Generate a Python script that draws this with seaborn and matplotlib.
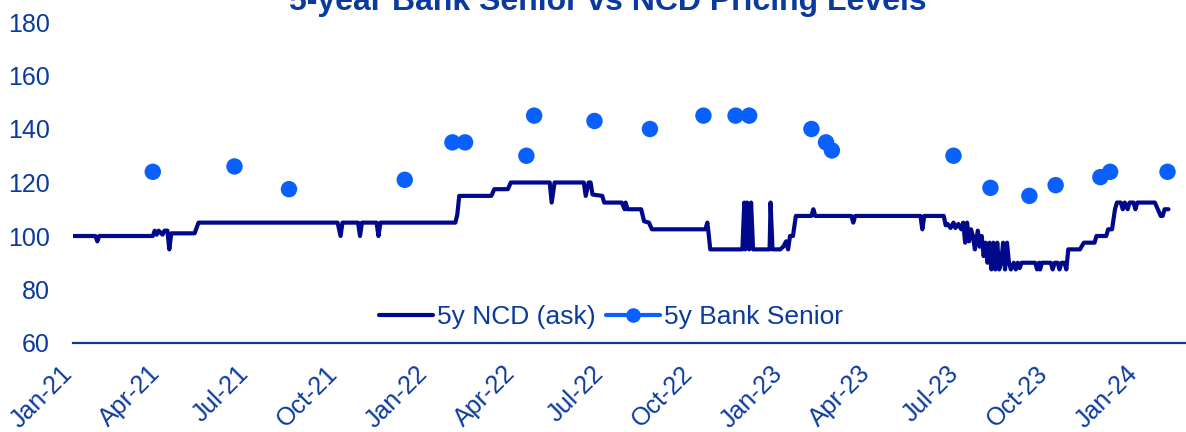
import numpy as np
import pandas as pd
import matplotlib
matplotlib.use("Agg")
import matplotlib.pyplot as plt
import matplotlib.dates as mdates
from matplotlib.lines import Line2D
from matplotlib.transforms import ScaledTranslation
import seaborn as sns

# ---------------- data ----------------
start_date = "2021-01-01"
end_date = "2024-02-19"

# 5y NCD (ask): day offset from start_date, value
ncd_day = [0, 23, 25, 27, 82, 84, 86, 88, 92, 94, 97, 99, 101, 125, 129,
           272, 275, 277, 293, 295, 297, 312, 314, 316, 393, 395, 397, 430, 433,
           447, 450, 490, 492, 495, 525, 527, 530, 532, 534, 544, 546, 564, 567,
           568, 570, 584, 587, 592, 595, 650, 652, 653, 655, 688, 690, 691, 693,
           695, 697, 699, 716, 717, 719, 727, 730, 733, 735, 737, 740, 743, 759,
           761, 763, 800, 802, 804, 871, 873, 875, 895, 897, 899, 902, 905, 907,
           910, 913, 915, 917, 919, 921, 923, 925, 927, 930, 932, 934, 936, 938,
           940, 942, 944, 946, 948, 950, 952, 954, 956, 958, 960, 962, 964, 967,
           969, 971, 973, 975, 989, 991, 993, 994, 996, 1005, 1007, 1009, 1012,
           1014, 1016, 1019, 1021, 1023, 1035, 1039, 1050, 1052, 1062, 1064, 1068,
           1071, 1073, 1077, 1079, 1081, 1084, 1086, 1090, 1092, 1094, 1112, 1115,
           1118, 1120, 1122, 1126]
ncd_val = [100, 100, 98, 100, 100, 102, 100.5, 102, 100.5, 102, 102, 95, 101, 101, 105,
           105, 100, 105, 105, 100, 105, 105, 100, 105, 105, 108, 115, 115, 117.5,
           117.5, 120, 120, 112.5, 120, 120, 115, 120, 120, 115.5, 115, 112.5, 112.5, 110,
           112.5, 110, 110, 105.5, 105, 102.5, 102.5, 105, 102, 95, 95, 112.5, 95, 112.5,
           95, 112.5, 95, 95, 112.5, 95, 95, 96, 98, 95, 100, 100, 107.5, 107.5,
           110, 107.5, 107.5, 105, 107.5, 107.5, 102.5, 107.5, 107.5, 104, 104.5, 103, 105, 103,
           104.5, 102.5, 105, 97.5, 105, 98, 102.5, 100, 95, 102, 96, 100, 92.5, 97.5,
           90, 97.5, 87.5, 97.5, 87.5, 97.5, 87.5, 90, 97.5, 87.5, 97.5, 90, 87.5, 90,
           87.5, 90, 88, 90, 90, 87.5, 90, 87.5, 90, 90, 87.5, 90, 90,
           87.5, 90, 90, 87.5, 95, 95, 97.5, 97.5, 100, 100, 102.5, 102.5,
           110, 112.5, 112.5, 110, 112.5, 110, 112.5, 112.5, 110, 112.5, 112.5, 110,
           107.5, 107.5, 110, 110]

# 5y Bank Senior: day offset from start_date, value
senior_day = [82, 166, 222, 341, 390, 403, 466, 474, 536, 593, 648, 681, 695,
              759, 774, 780, 905, 943, 983, 1010, 1056, 1066, 1125]
senior_val = [124, 126, 117.5, 121, 135, 135, 130, 145, 143, 140, 145, 145, 145,
              140, 135, 132, 130, 118, 115, 119, 122, 124, 124]

title = "5-year Bank Senior vs NCD Pricing Levels"
label_ncd = "5y NCD (ask)"
label_senior = "5y Bank Senior"
y_ticks = [60, 80, 100, 120, 140, 160, 180]

# ---------------- styling ----------------
ncd_color = "#00088C"
senior_color = "#0A5FFF"
text_color = "#0B3A9E"

sns.set_theme(style="white")
plt.rcParams["font.family"] = ["Liberation Sans", "DejaVu Sans"]

t0 = pd.Timestamp(start_date)
ncd_df = pd.DataFrame({"date": t0 + pd.to_timedelta(ncd_day, unit="D"), "value": ncd_val})
sen_df = pd.DataFrame({"date": t0 + pd.to_timedelta(senior_day, unit="D"), "value": senior_val})

fig = plt.figure(figsize=(11.86, 4.32), dpi=100)
ax = fig.add_axes([73 / 1186, 1 - 343 / 432, 1 - 73 / 1186, (343 - 22) / 432])

sns.lineplot(data=ncd_df, x="date", y="value", ax=ax, color=ncd_color,
             linewidth=3.0, legend=False, estimator=None)
sns.scatterplot(data=sen_df, x="date", y="value", ax=ax, color=senior_color,
                s=140, edgecolor="none", legend=False, zorder=3)

ax.set_xlim(pd.Timestamp(start_date), pd.Timestamp(end_date))
ax.set_ylim(60, 180)
ax.set_yticks(y_ticks)
ax.set_xlabel("")
ax.set_ylabel("")

ax.xaxis.set_major_locator(mdates.MonthLocator(bymonth=[1, 4, 7, 10], bymonthday=1))
ax.xaxis.set_major_formatter(mdates.DateFormatter("%b-%y"))

for s in ["top", "right", "left"]:
    ax.spines[s].set_visible(False)
ax.spines["bottom"].set_color(text_color)
ax.spines["bottom"].set_linewidth(1.6)
ax.grid(False)

ax.tick_params(axis="y", length=0, pad=16.5, labelsize=18, labelcolor=text_color)
ax.tick_params(axis="x", length=0, pad=13, labelsize=18, labelcolor=text_color)
for lab in ax.get_xticklabels():
    lab.set_rotation(45)
    lab.set_ha("right")
    lab.set_transform(lab.get_transform() + ScaledTranslation(4 / 100, 0, fig.dpi_scale_trans))

fig.text(608 / 1186, 1 - 10 / 432, title, ha="center", va="baseline",
         fontsize=23, fontweight="bold", color=text_color)

handles = [
    Line2D([0], [0], color=ncd_color, lw=3.0),
    Line2D([0], [0], color=senior_color, lw=3.0, marker="o", markersize=9.5),
]
leg = fig.legend(handles, [label_ncd, label_senior], loc="center",
                 bbox_to_anchor=(611 / 1186, 1 - 317 / 432), ncol=2, frameon=False,
                 fontsize=19, handlelength=2.05, handletextpad=0.15, columnspacing=0.4,
                 borderpad=0, borderaxespad=0)
for t in leg.get_texts():
    t.set_color(text_color)

fig.savefig("out.png", dpi=100)
